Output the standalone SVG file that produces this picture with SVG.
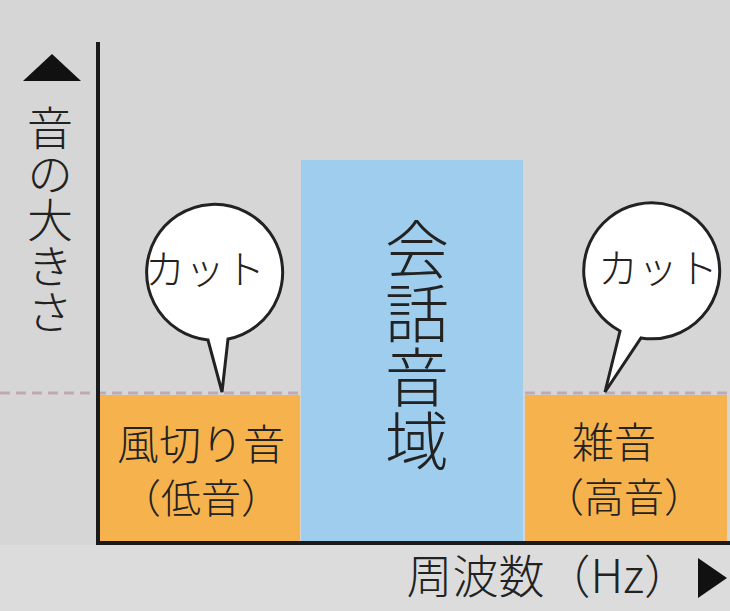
<svg xmlns="http://www.w3.org/2000/svg" width="730" height="611" viewBox="0 0 730 611">
<style>
.t{font-family:"Noto Sans CJK JP","Noto Sans",sans-serif;font-weight:300;fill:#222}
.v{writing-mode:vertical-rl;text-anchor:middle}
.bub{fill:#fff;stroke:#222;stroke-width:3}
</style>
<rect x="0" y="0" width="730" height="611" fill="#d6d6d6"/>
<rect x="0" y="545" width="730" height="66" fill="#dcdcdc"/>
<g id="band-speech">
<rect x="301" y="160" width="222" height="382" fill="#9fcdee"/>
<text class="t v" x="417" y="345" font-size="64">会話音域</text>
</g>
<g id="band-low">
<rect x="100" y="395" width="200" height="147" fill="#f6b24c"/>
<text class="t" x="201" y="460" font-size="42" text-anchor="middle">風切り音</text>
<text class="t" x="201" y="513" font-size="40" text-anchor="middle">（低音）</text>
</g>
<g id="band-high">
<rect x="525" y="395" width="202" height="147" fill="#f6b24c"/>
<text class="t" x="614" y="458" font-size="42" text-anchor="middle">雑音</text>
<text class="t" x="624" y="512" font-size="40" text-anchor="middle">（高音）</text>
</g>
<g id="threshold">
<line x1="0" y1="393" x2="300" y2="393" stroke="#bfa9b4" stroke-width="3" stroke-dasharray="10 6"/>
<line x1="525" y1="393" x2="730" y2="393" stroke="#bfa9b4" stroke-width="3" stroke-dasharray="10 6"/>
</g>
<g id="connectors">
<line x1="98" y1="42" x2="98" y2="545" stroke="#1a1a1a" stroke-width="4"/>
<line x1="96" y1="543" x2="730" y2="543" stroke="#1a1a1a" stroke-width="4"/>
<polygon points="52,54 81,81 23,81" fill="#111"/>
<polygon points="698,558 727,578 698,598" fill="#111"/>
</g>
<g id="axis-y-label">
<text class="t v" x="50" y="220" font-size="46">音の大きさ</text>
</g>
<g id="axis-x-label">
<text class="t" x="690" y="593" font-size="46" text-anchor="end">周波数（Hz）</text>
</g>
<g id="bubble-left">
<path class="bub" d="M208,340 A68,68 0 1 1 228,339 L222,392 Z"/>
<text class="t" x="205" y="284" font-size="40" text-anchor="middle">カット</text>
</g>
<g id="bubble-right">
<path class="bub" d="M620,331 A68,68 0 1 1 641,338 L605,392 Z"/>
<text class="t" x="658" y="283" font-size="40" text-anchor="middle">カット</text>
</g>
</svg>
